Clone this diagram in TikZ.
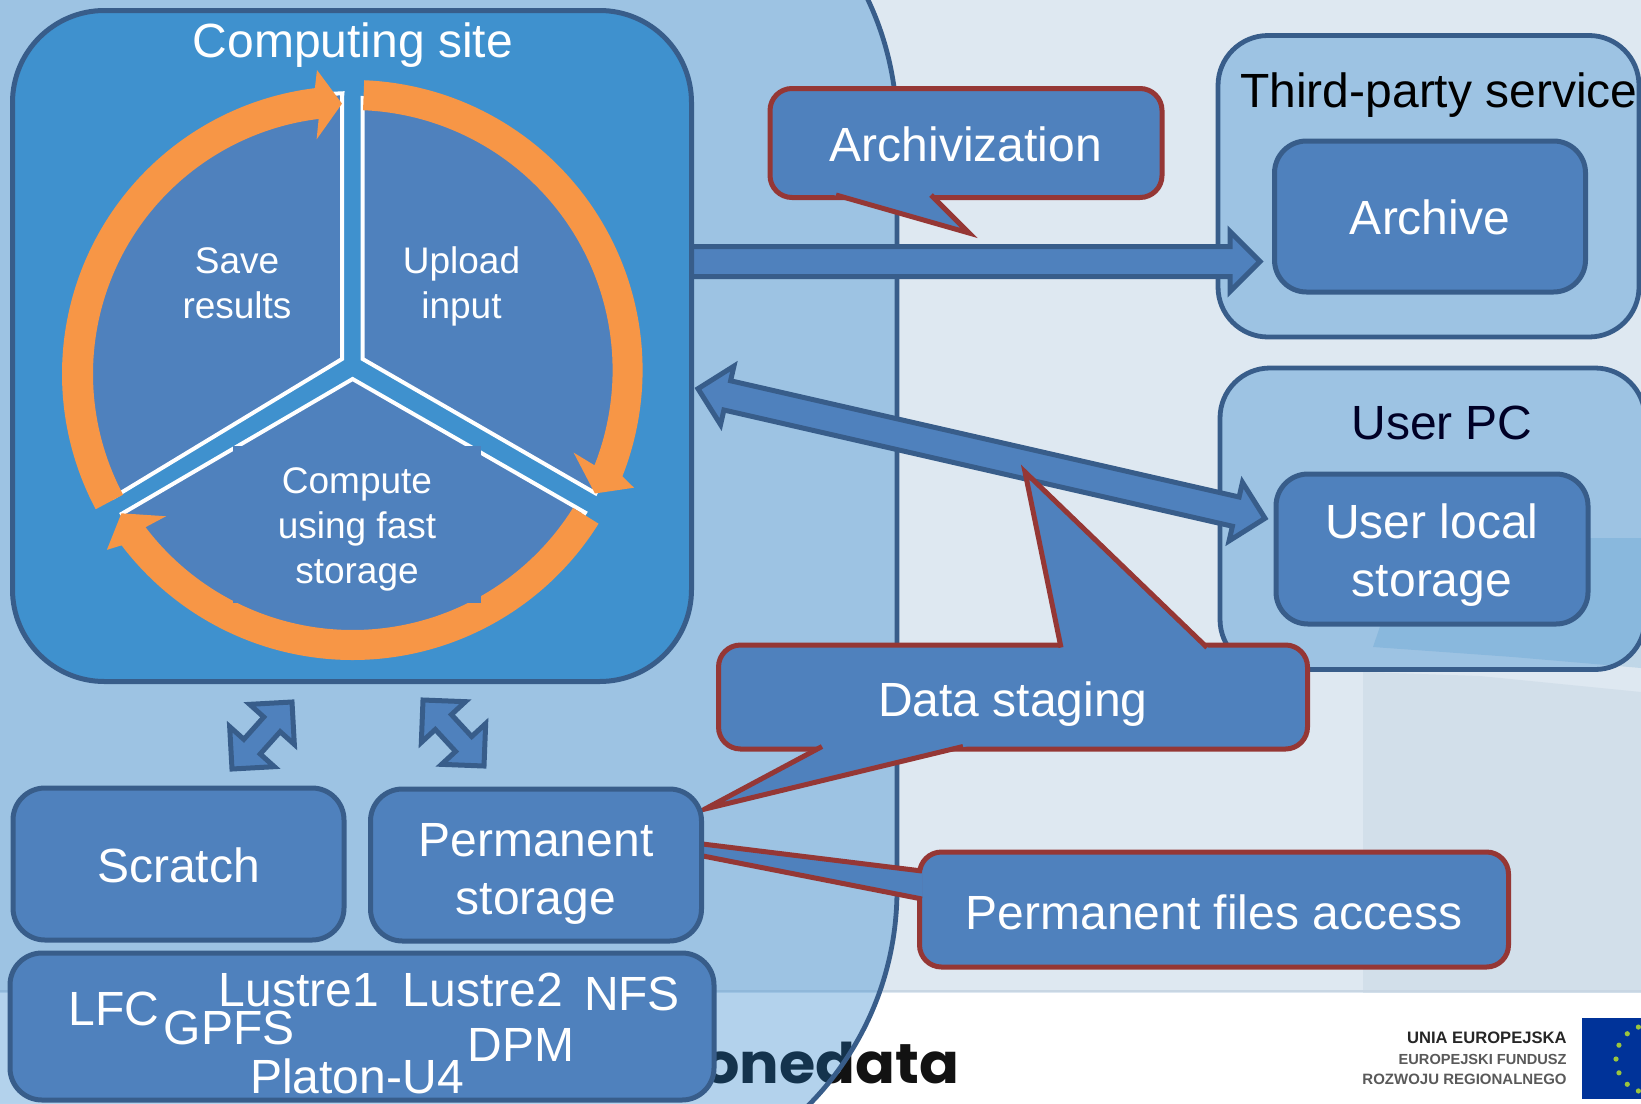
\documentclass[tikz,border=0pt]{standalone}
\usepackage{fontspec}
\usetikzlibrary{calc}
\setmainfont{Liberation Sans}
\newfontfamily\logofont{Poppins}

\definecolor{bglight}{HTML}{DEE8F1}
\definecolor{bgdark}{HTML}{D2DFEA}
\definecolor{bgshade}{HTML}{C0D7E8}
\definecolor{bandline}{HTML}{C8D6E3}
\definecolor{glassblue}{HTML}{1B79C7}
\definecolor{sitefill}{HTML}{3F91CE}
\definecolor{boxfill}{HTML}{4F81BD}
\definecolor{boxline}{HTML}{385D8A}
\definecolor{calloutline}{HTML}{953735}
\definecolor{ringorange}{HTML}{F79646}
\definecolor{flagblue}{HTML}{003399}
\definecolor{flagstar}{HTML}{9BC53D}

\newcommand{\bigtext}{\fontsize{24}{29}\selectfont}
\newcommand{\smalltext}{\fontsize{18.5}{22.5}\selectfont}
% lowers the text of a node inside its box
\newcommand{\dropbig}[1]{\rule{0pt}{\dimexpr 17.5pt+2\dimexpr #1\relax\relax}}
\newcommand{\dropsmall}[1]{\rule{0pt}{\dimexpr 13.5pt+2\dimexpr #1\relax\relax}}

% block arrows: ends, half shaft, half head, head length
\newcommand{\twoheadarrow}[5]{
  \draw[blockarrow] (#1) -- ($(#1)!#5!(#2)!#4!90:(#2)$) -- ($(#1)!#5!(#2)!#3!90:(#2)$)
    -- ($(#2)!#5!(#1)!#3!-90:(#1)$) -- ($(#2)!#5!(#1)!#4!-90:(#1)$) -- (#2)
    -- ($(#2)!#5!(#1)!#4!90:(#1)$) -- ($(#2)!#5!(#1)!#3!90:(#1)$)
    -- ($(#1)!#5!(#2)!#3!-90:(#2)$) -- ($(#1)!#5!(#2)!#4!-90:(#2)$) -- cycle;
}
\newcommand{\oneheadarrow}[5]{
  \draw[blockarrow] ($(#1)!#3!90:(#2)$)
    -- ($(#2)!#5!(#1)!#3!-90:(#1)$) -- ($(#2)!#5!(#1)!#4!-90:(#1)$) -- (#2)
    -- ($(#2)!#5!(#1)!#4!90:(#1)$) -- ($(#2)!#5!(#1)!#3!90:(#1)$)
    -- ($(#1)!#3!-90:(#2)$) -- cycle;
}
% pointer of a callout, over the border of its box
\newcommand{\callouttail}[3]{
  \filldraw[boxfill, line width=0.6pt] (#1) -- (#2) -- (#3) -- cycle;
  \draw[calloutline, line width=2.5pt, miter limit=20] (#1) -- (#2) -- (#3);
}

\begin{document}
\begin{tikzpicture}[x=0.5pt, y=-0.5pt,
    glass/.style={fill=glassblue, fill opacity=0.33, draw=boxline, line width=2.4pt},
    storage/.style={rectangle, draw=boxline, fill=boxfill, line width=2.5pt, rounded corners=16pt,
      text=white, font=\bigtext, align=center, inner sep=0pt},
    callout/.style={storage, draw=calloutline, rounded corners=11pt},
    blockarrow/.style={draw=boxline, fill=boxfill, line width=2.5pt},
    sector/.style={fill=boxfill, draw=white, line width=2pt},
    ring/.style={fill=ringorange},
    plainlabel/.style={inner sep=0pt, font=\bigtext, text=white}]

  \useasboundingbox (0,0) rectangle (1641,1103);

  % slide background
  \fill[bglight] (0,0) rectangle (1641,993);
  \fill[bgshade] (1373,647) -- (1410,538) -- (1641,538) -- (1641,668) -- (1513,657) -- cycle;
  \fill[bgdark] (1363,672) -- (1480,676) -- (1641,692) -- (1641,993) -- (1363,993) -- cycle;
  \fill[white] (0,993) rectangle (1641,1103);
  \draw[bandline, line width=1pt] (0,991) -- (1641,991);

  \node[anchor=base west, inner sep=0pt, text=black!93] (onedata) at (702,1083)
    {\logofont\bfseries\fontsize{28}{30}\selectfont\scalebox{1.05}[1]{onedata}};

  \begin{scope}[every node/.style={inner sep=0pt, anchor=east}]
    \node[font=\bfseries\fontsize{8.3}{10}\selectfont, text=black!85] (unia) at (1567,1038) {UNIA EUROPEJSKA};
    \node[font=\bfseries\fontsize{7.3}{9}\selectfont, text=black!65] (fundusz) at (1567,1059) {EUROPEJSKI FUNDUSZ};
    \node[font=\bfseries\fontsize{7.5}{9}\selectfont, text=black!65] (rozwoj) at (1567,1079) {ROZWOJU REGIONALNEGO};
  \end{scope}
  \fill[flagblue] (1582,1018) rectangle (1645,1099);
  \foreach \a in {110,132,156,180,204,228,250}
    \fill[flagstar] ($(1650,1059)+(\a:34)$) circle (1.3pt);

  % translucent areas
  \draw[glass, rounded corners=153pt] (-100,-176) rectangle (897,1196);
  \draw[glass, rounded corners=25pt] (1218,35.5) rectangle (1639,337);
  \draw[glass, rounded corners=25pt] (1220,368) rectangle (1645,669.5);
  \node[plainlabel, text=black] (thirdparty) at (1439,95) {Third-party service};
  \node[plainlabel, text=black!85!blue] (userpc) at (1442,423) {User PC};

  % arrows between the areas
  \coordinate (sitearrow) at (690,261.5);
  \coordinate (archivearrow) at (1260,261.5);
  \coordinate (siteback) at (698,388.7);
  \coordinate (userarrow) at (1265,518.3);
  \coordinate (scratchtop) at (292,702);
  \coordinate (scratchend) at (232,769);
  \coordinate (permtop) at (423,700);
  \coordinate (permend) at (484,766);
  \oneheadarrow{sitearrow}{archivearrow}{7.5pt}{15pt}{15pt}
  \twoheadarrow{siteback}{userarrow}{7.5pt}{15pt}{15pt}
  \twoheadarrow{scratchtop}{scratchend}{5.5pt}{15pt}{15pt}
  \twoheadarrow{permtop}{permend}{5.5pt}{15pt}{15pt}

  % computing site with its cycle
  \node[storage, fill=sitefill, rounded corners=46pt, minimum width=339.5pt, minimum height=335.5pt] (site) at (352,346) {};
  \node[plainlabel] (sitename) at (353,45) {Computing site};

  \draw[sector] (362.7,359) -- (362.7,98) arc[start angle=-88, end angle=27, radius=272] -- cycle;
  \draw[sector] (342,359) -- (114,497) arc[start angle=151, end angle=268, radius=272] -- (342,98) -- cycle;
  \draw[sector] (352.6,379) -- (585,512.5) arc[start angle=31.5, end angle=148.2, radius=272] -- cycle;

  \begin{scope}[shift={(352.6,370)}]
    \fill[ring] (-87.7:290) arc[start angle=-87.7, end angle=21.5, radius=290] -- (22.7:305) -- (27:272)
      -- (20.5:236) -- (21.5:260) arc[start angle=21.5, end angle=-87.7, radius=260] -- cycle;
    \fill[ring] (32:290) arc[start angle=32, end angle=142.8, radius=290] -- (143.8:304.5) -- (148.2:272)
      -- (141.9:237) -- (142.8:260) arc[start angle=142.8, end angle=32, radius=260] -- cycle;
  \end{scope}
  \begin{scope}[shift={(350,374)}]
    \fill[ring] (152:288) arc[start angle=152, end angle=263, radius=288] -- (263.8:305.8) -- (268.3:270.5)
      -- (261.9:237) -- (263:257) arc[start angle=263, end angle=152, radius=257] -- cycle;
  \end{scope}

  \begin{scope}[every node/.style={inner sep=0pt, align=center, text=white, font=\smalltext}]
    \node (save) at (237,283.5) {Save\\results};
    \node (upload) at (461.5,286.5) {Upload\\input};
    \node[fill=boxfill, minimum width=124pt, minimum height=78.5pt] (compute) at (357,524.5) {\dropsmall{2.4pt}Compute\\using fast\\storage};
  \end{scope}

  % callouts
  \node[callout, minimum width=196pt, minimum height=54.5pt] (archivization) at (966,143) {\dropbig{0.6pt}Archivization};
  \callouttail{836,195}{969,233}{931,195}
  \node[callout, minimum width=294.5pt, minimum height=52pt] (staging) at (1013,697) {\dropbig{3.6pt}Data staging};
  \callouttail{1061,647.5}{1025,472}{1207,647.5}
  \callouttail{822,746.5}{705,809}{963,746.5}
  \node[callout, minimum width=294.5pt, minimum height=57.5pt] (permfiles) at (1214,909.5) {\dropbig{1.6pt}Permanent files access};
  \callouttail{922,871}{540,824}{922,899}

  % storage boxes
  \node[storage, minimum width=155.5pt, minimum height=75.5pt] (archive) at (1430,216.5) {\dropbig{0.5pt}Archive};
  \node[storage, minimum width=156pt, minimum height=75pt] (userlocal) at (1432,549) {\dropbig{3.1pt}User local\\storage};
  \node[storage, minimum width=165.5pt, minimum height=76pt] (scratch) at (178.5,864) {\dropbig{0.8pt}Scratch};
  \node[storage, minimum width=165.5pt, minimum height=76pt] (permanent) at (536,865) {\dropbig{3.8pt}Permanent\\storage};
  \node[storage, minimum width=352pt, minimum height=73.5pt] (filesystems) at (362,1026.5) {};

  \begin{scope}[every node/.style={plainlabel}]
    \node (lfc) at (114,1009) {LFC};
    \node (gpfs) at (229,1028) {GPFS};
    \node (lustreone) at (299,990) {Lustre1};
    \node (lustretwo) at (483,990) {Lustre2};
    \node (nfs) at (632,994) {NFS};
    \node (dpm) at (521,1045) {DPM};
    \node (platon) at (357,1076) {Platon-U4};
  \end{scope}

\end{tikzpicture}
\end{document}
